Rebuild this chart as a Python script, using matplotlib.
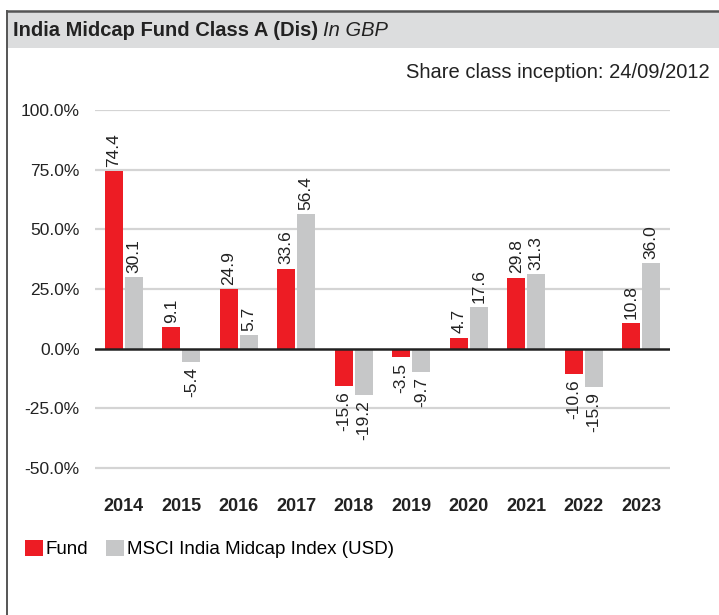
import matplotlib
matplotlib.use("Agg")
import matplotlib.pyplot as plt
from matplotlib.patches import Patch, Rectangle
from matplotlib.lines import Line2D
import numpy as np

# Datos
anios = ["2014", "2015", "2016", "2017", "2018", "2019", "2020", "2021", "2022", "2023"]
fondo = [74.4, 9.1, 24.9, 33.6, -15.6, -3.5, 4.7, 29.8, -10.6, 10.8]
indice = [30.1, -5.4, 5.7, 56.4, -19.2, -9.7, 17.6, 31.3, -15.9, 36.0]
yticks = [-50, -25, 0, 25, 50, 75, 100]

rojo = "#ED1C24"
gris = "#C6C7C8"

plt.rcParams["font.family"] = ["Liberation Sans", "DejaVu Sans"]

fig = plt.figure(figsize=(7.19, 6.15), dpi=100)

# Marco y banda del titulo
fig.add_artist(Rectangle((7 / 719, 1 - 48 / 615), 1, 36 / 615, transform=fig.transFigure,
                         facecolor="#DCDDDE", edgecolor="none"))
fig.add_artist(Line2D([7 / 719, 1], [1 - 11 / 615] * 2, transform=fig.transFigure,
                      color="#555555", lw=1.8))
fig.add_artist(Line2D([7 / 719] * 2, [0, 1 - 11 / 615], transform=fig.transFigure,
                      color="#555555", lw=1.4))

titulo_font = ["Liberation Sans", "DejaVu Sans"]
t = fig.text(13 / 719, 1 - 30 / 615, "India Midcap Fund Class A (Dis)", fontsize=14.5,
             fontweight="bold", family=titulo_font, va="center", ha="left", color="#222222")
fig.canvas.draw()
bb = t.get_window_extent()
fig.text((bb.x1 + 5) / 719, 1 - 30 / 615, "In GBP", fontsize=14.5, style="italic",
         family=titulo_font, va="center", ha="left", color="#222222")

fig.text(710 / 719, 1 - 72 / 615, "Share class inception: 24/09/2012", fontsize=14.5,
         family=titulo_font, va="center", ha="right", color="#222222")

ax = fig.add_axes([95 / 719, 123 / 615, 575 / 719, 382 / 615])
x = np.arange(len(anios))
w = 0.31
off = 0.174
b1 = ax.bar(x - off, fondo, w, color=rojo, zorder=3)
b2 = ax.bar(x + off, indice, w, color=gris, zorder=3)

for barras, vals in [(b1, fondo), (b2, indice)]:
    for b, v in zip(barras, vals):
        cx = b.get_x() + b.get_width() / 2
        if v >= 0:
            ax.annotate(f"{v:.1f}", (cx, v), xytext=(0, 3), textcoords="offset points",
                        rotation=90, ha="center", va="bottom", fontsize=12.5, color="#222222")
        else:
            ax.annotate(f"{v:.1f}", (cx, v), xytext=(0, -4), textcoords="offset points",
                        rotation=90, ha="center", va="top", fontsize=12.5, color="#222222")

ax.set_xlim(-0.5, len(anios) - 0.5)
ax.set_ylim(-60, 100)
ax.set_yticks(yticks)
ax.set_yticklabels([f"{v:.1f}%" for v in yticks], fontsize=12.5, color="#222222")
ax.set_xticks(x)
ax.set_xticklabels(anios, fontsize=13, fontweight="bold", color="#222222")
ax.tick_params(axis="both", length=0)
ax.tick_params(axis="y", pad=11)
ax.tick_params(axis="x", pad=4)
for s in ax.spines.values():
    s.set_visible(False)
for v in yticks:
    if v != 0:
        ax.axhline(v, color="#D4D4D4", lw=1.6, zorder=1)
ax.axhline(0, color="#222222", lw=1.8, zorder=4)

handles = [Patch(facecolor=rojo, edgecolor="none"), Patch(facecolor=gris, edgecolor="none")]
fig.legend(handles, ["Fund", "MSCI India Midcap Index (USD)"], loc="center left",
           bbox_to_anchor=(25 / 719, 1 - 549 / 615), ncol=2, frameon=False, fontsize=13.5,
           handlelength=0.95, handleheight=0.95, handletextpad=0.15, columnspacing=0.95,
           borderpad=0, borderaxespad=0)

fig.savefig("out.png", dpi=100)
